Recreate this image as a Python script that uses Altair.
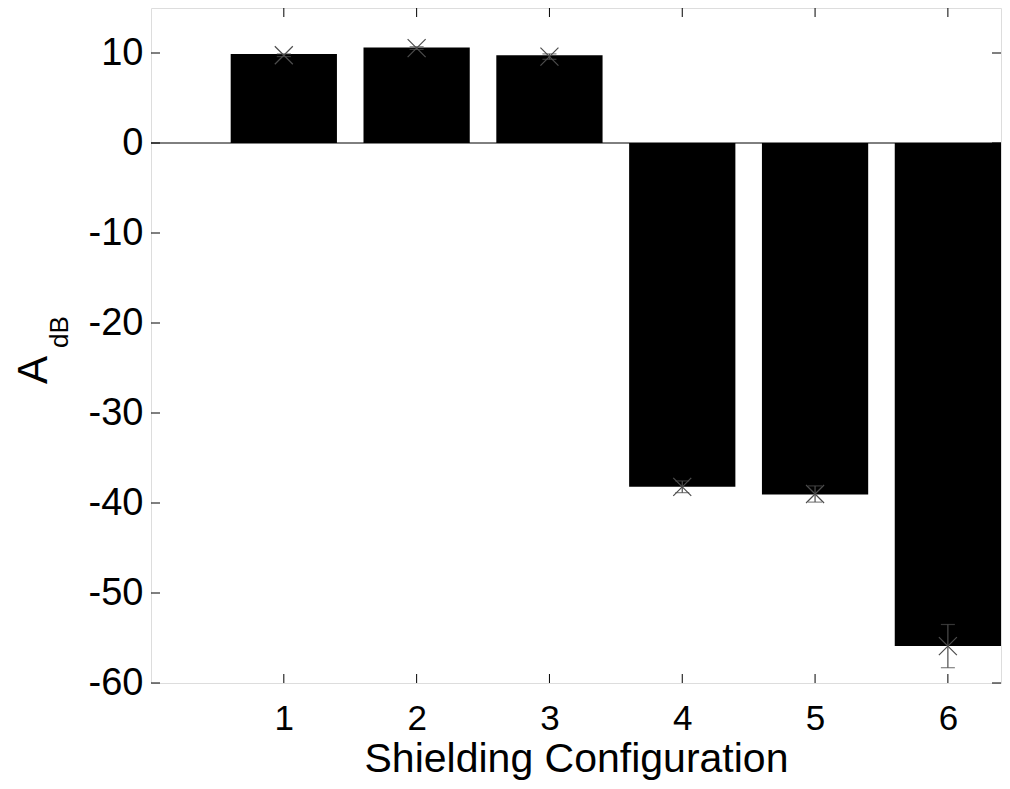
import altair as alt
import pandas as pd

# ---- data ----
configs = [1, 2, 3, 4, 5, 6]
bar_values = [9.9, 10.6, 9.75, -38.2, -39.05, -55.9]
marker_values = [9.75, 10.55, 9.6, -38.2, -39.0, -55.9]
err_values = [0.15, 0.15, 0.3, 0.65, 0.9, 2.4]
y_ticks = [-60, -50, -40, -30, -20, -10, 0, 10]

W, H = 850, 675
FONT = "Liberation Sans"
GRAY = "#4d4d4d"

df = pd.DataFrame({"cfg": configs, "val": bar_values, "m": marker_values, "e": err_values})
yt = pd.DataFrame({"t": y_ticks})
xt = pd.DataFrame({"t": configs})

xs = alt.Scale(domain=[0, 6.40], nice=False, zero=False)
ys = alt.Scale(domain=[-60, 15], nice=False, zero=False)

base = alt.Chart(df)

bars = base.transform_calculate(lo="datum.cfg - 0.4", hi="datum.cfg + 0.4").mark_rect(
    color="black"
).encode(
    x=alt.X("lo:Q", scale=xs, axis=alt.Axis(
        title="Shielding Configuration", values=configs, ticks=False, domain=False,
        grid=False, labelFont=FONT, labelFontSize=35, labelColor="black",
        labelExpr="'' + datum.value",
        labelPadding=18, titleFont=FONT, titleFontSize=41, titleFontWeight="normal",
        titleColor="black", titlePadding=3)),
    x2="hi:Q",
    y=alt.Y("zero:Q", scale=ys, axis=alt.Axis(
        title=None, values=y_ticks, ticks=False, domain=False, grid=False,
        labelFont=FONT, labelFontSize=38, labelColor="black", labelPadding=8,
        labelExpr="'' + datum.value")),
    y2="val:Q",
).transform_calculate(zero="0")

zero_line = alt.Chart(pd.DataFrame({"z": [0]})).mark_rule(color="black", strokeWidth=1).encode(
    y=alt.Y("z:Q", scale=ys), x=alt.value(0), x2=alt.value(W)
)

err_rule = base.transform_calculate(a="datum.m - datum.e", b="datum.m + datum.e").mark_rule(
    color=GRAY, strokeWidth=1.2
).encode(x=alt.X("cfg:Q", scale=xs), y=alt.Y("a:Q", scale=ys), y2="b:Q")

cap_lo = base.transform_calculate(a="datum.m - datum.e").mark_tick(
    orient="horizontal", size=14, thickness=1.2, color=GRAY
).encode(x=alt.X("cfg:Q", scale=xs), y=alt.Y("a:Q", scale=ys))
cap_hi = base.transform_calculate(b="datum.m + datum.e").mark_tick(
    orient="horizontal", size=14, thickness=1.2, color=GRAY
).encode(x=alt.X("cfg:Q", scale=xs), y=alt.Y("b:Q", scale=ys))

markers = base.mark_point(
    shape="M-1,-1L1,1M-1,1L1,-1", filled=False, size=324, strokeWidth=1.2, color=GRAY, opacity=1
).encode(x=alt.X("cfg:Q", scale=xs), y=alt.Y("m:Q", scale=ys))

TL = 9
ytick_l = alt.Chart(yt).mark_rule(color="black").encode(
    y=alt.Y("t:Q", scale=ys), x=alt.value(0), x2=alt.value(TL))
ytick_r = alt.Chart(yt).mark_rule(color="black").encode(
    y=alt.Y("t:Q", scale=ys), x=alt.value(W - TL), x2=alt.value(W))
xtick_b = alt.Chart(xt).mark_rule(color="black").encode(
    x=alt.X("t:Q", scale=xs), y=alt.value(H - TL), y2=alt.value(H))
xtick_t = alt.Chart(xt).mark_rule(color="black").encode(
    x=alt.X("t:Q", scale=xs), y=alt.value(0), y2=alt.value(TL))

title_a = alt.Chart(pd.DataFrame({"s": ["A"]})).mark_text(
    font=FONT, fontSize=42, angle=270, align="center", baseline="middle", color="black"
).encode(text="s:N", x=alt.value(-117), y=alt.value(362))
title_db = alt.Chart(pd.DataFrame({"s": ["dB"]})).mark_text(
    font=FONT, fontSize=26, angle=270, align="center", baseline="middle", color="black"
).encode(text="s:N", x=alt.value(-91), y=alt.value(324))

chart = alt.layer(
    bars, zero_line, err_rule, cap_lo, cap_hi, markers,
    ytick_l, ytick_r, xtick_b, xtick_t, title_a, title_db
).properties(
    width=W, height=H,
    autosize=alt.AutoSizeParams(type="none"),
    padding={"left": 143, "top": 0, "right": 1, "bottom": 97},
).configure_view(stroke="black", strokeWidth=1).configure(background="white")

chart.save("out.html", embed_options={"renderer": "svg", "actions": False})
